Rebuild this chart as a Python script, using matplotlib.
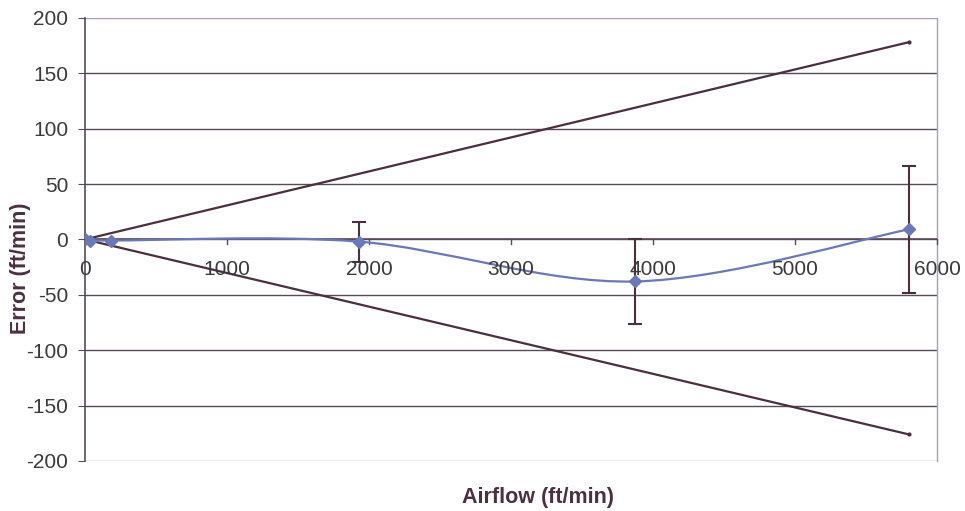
import numpy as np
import matplotlib.pyplot as plt
from matplotlib.path import Path
from matplotlib.patches import PathPatch

plt.rcParams['font.family'] = ['Liberation Sans', 'DejaVu Sans']
plt.rcParams['axes.unicode_minus'] = False

# measured points
airflow = [0, 35, 185, 1930, 3870, 5800]
error = [0, -1, -1, -2, -38, 9]
err_bar = [0, 0, 0, 18, 38, 57]
# accuracy limits (cone)
limit_x = [0, 5800]
limit_hi = [0, 178]
limit_lo = [0, -176]

line_blue = '#6a78b8'
dark = '#4a2f3c'
grid_c = '#5a4a5a'
text_c = '#3a3a3a'

fig = plt.figure(figsize=(9.65, 5.11), dpi=100)
ax = fig.add_axes([0.088, 0.098, 0.883, 0.867])

ax.set_xlim(0, 6000)
ax.set_ylim(-200, 200)

# horizontal gridlines
for yv in range(-150, 200, 50):
    ax.axhline(yv, color=grid_c, linewidth=1.0, zorder=1)
ax.axhline(-200, color='#a89cc0', linewidth=1.0, zorder=1)

# cone lines
ax.plot(limit_x, limit_hi, color=dark, linewidth=1.6, marker='o', markersize=2, zorder=3)
ax.plot(limit_x, limit_lo, color=dark, linewidth=1.6, marker='o', markersize=2, zorder=3)

# smoothed line through the points (Catmull-Rom style bezier, like Excel)
xs = np.array(airflow, dtype=float)
ys = np.array(error, dtype=float)
verts = [(xs[0], ys[0])]
codes = [Path.MOVETO]
t = 1.0 / 6
for i in range(len(xs) - 1):
    p0 = (xs[i - 1], ys[i - 1]) if i > 0 else (xs[i], ys[i])
    p1 = (xs[i], ys[i])
    p2 = (xs[i + 1], ys[i + 1])
    p3 = (xs[i + 2], ys[i + 2]) if i + 2 < len(xs) else p2
    c1 = (p1[0] + (p2[0] - p0[0]) * t, p1[1] + (p2[1] - p0[1]) * t)
    c2 = (p2[0] - (p3[0] - p1[0]) * t, p2[1] - (p3[1] - p1[1]) * t)
    verts += [c1, c2, p2]
    codes += [Path.CURVE4] * 3
ax.add_patch(PathPatch(Path(verts, codes), facecolor='none', edgecolor=line_blue,
                       linewidth=1.6, zorder=4))
ax.plot(airflow, error, linestyle='none', marker='D', markersize=6,
        color=line_blue, zorder=5)

# error bars
ax.errorbar(airflow[3:], error[3:], yerr=err_bar[3:], fmt='none', ecolor=dark,
            elinewidth=1.5, capsize=5, capthick=1.5, zorder=4)

# spines / axis at y=0
for s in ['top', 'right', 'bottom']:
    ax.spines[s].set_visible(False)
ax.spines['left'].set_color(grid_c)
ax.spines['left'].set_linewidth(1.2)
ax.plot([6000, 6000], [-200, 200], color='#a89cc0', linewidth=1.0, clip_on=False, zorder=1)
ax.axhline(200, color='#a89cc0', linewidth=1.0, zorder=1)
ax.axhline(0, color=grid_c, linewidth=1.2, zorder=2)

ax.set_yticks(range(-200, 201, 50))
ax.tick_params(axis='y', direction='out', length=5, color=grid_c,
               labelsize=15, labelcolor=text_c, pad=7)

ax.set_xticks([])
for xv in range(0, 6001, 1000):
    ax.plot([xv, xv], [0, -4], color=grid_c, linewidth=1.0, zorder=2, clip_on=False)
    ax.text(xv, -19, str(xv), ha='center', va='top', fontsize=15, color=text_c, zorder=6)

fig.text(0.021, 0.476, 'Error (ft/min)', rotation=90, ha='center', va='center',
         fontsize=15.5, fontweight='bold', color='#4a3040')
fig.text(0.557, 0.027, 'Airflow (ft/min)', ha='center', va='center', fontsize=15.5,
         fontweight='bold', color='#4a3040')

fig.savefig('out.png', dpi=100)
